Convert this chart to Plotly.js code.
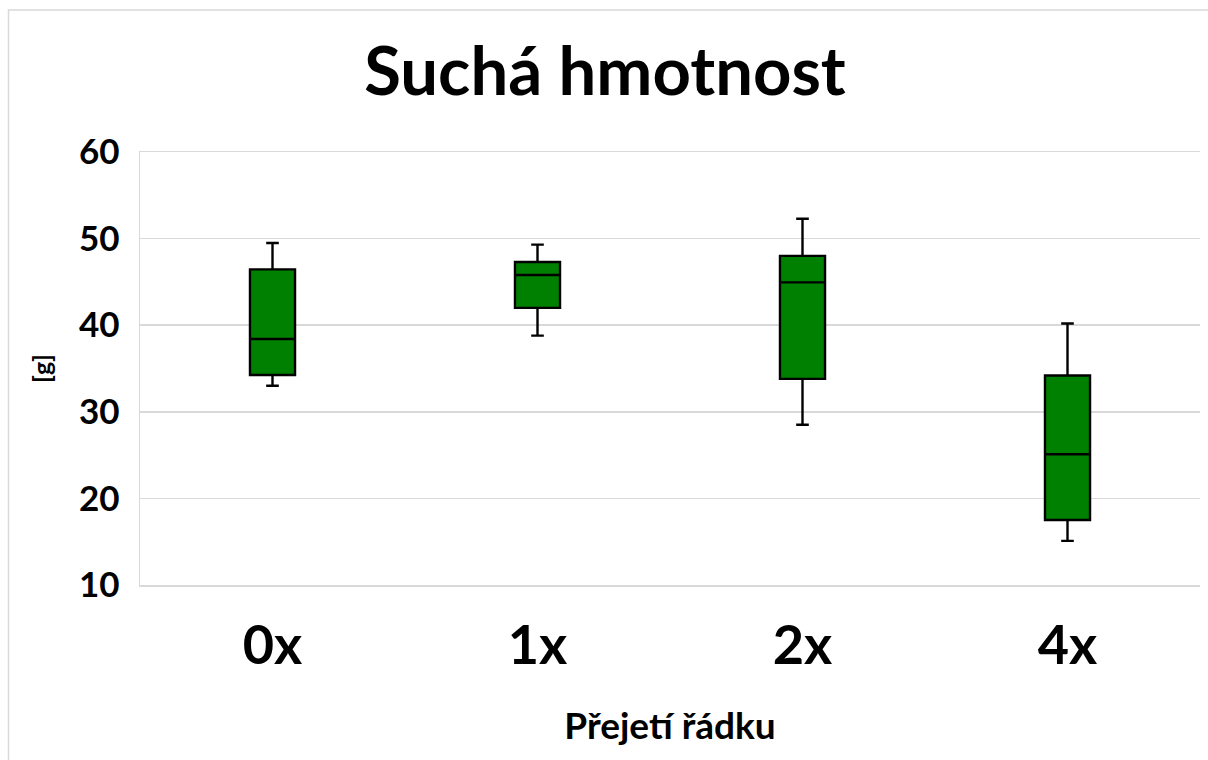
<!DOCTYPE html>
<html>
<head>
<meta charset="utf-8">
<script src="https://cdn.plot.ly/plotly-3.0.1.min.js"></script>
<style>html,body{margin:0;padding:0;background:#fff;}#chart{width:1208px;height:760px;}</style>
</head>
<body>
<div id="chart"></div>
<script>
const categories = ['0x', '1x', '2x', '4x'];
const lowerFence = [33.0, 38.8, 28.5, 15.1];
const q1 = [34.25, 42.0, 33.8, 17.5];
const median = [38.4, 45.8, 44.95, 25.1];
const q3 = [46.45, 47.3, 48.0, 34.2];
const upperFence = [49.5, 49.3, 52.3, 40.2];
const yTicks = [10, 20, 30, 40, 50, 60];

const FONT = 'Lato, "Open Sans", sans-serif';

const trace = {
  type: 'box',
  x: categories,
  q1: q1,
  median: median,
  q3: q3,
  lowerfence: lowerFence,
  upperfence: upperFence,
  width: 0.17,
  whiskerwidth: 0.28,
  fillcolor: '#008000',
  line: {color: '#000000', width: 2.4},
  boxpoints: false,
  hoverinfo: 'y',
  showlegend: false
};

const layout = {
  width: 1208,
  height: 760,
  paper_bgcolor: '#ffffff',
  plot_bgcolor: '#ffffff',
  margin: {l: 140, r: 8, t: 152, b: 175, pad: 0},
  title: {
    text: 'Suchá hmotnost',
    font: {family: FONT, size: 67, color: '#000', weight: 'bold'},
    x: 605 / 1208, xref: 'container', xanchor: 'center',
    y: 1 - 72 / 760, yref: 'container', yanchor: 'middle'
  },
  xaxis: {
    type: 'category',
    categoryorder: 'array',
    categoryarray: categories,
    range: [-0.5, 3.5],
    autorange: false,
    showgrid: false,
    showline: true,
    mirror: true,
    linecolor: '#d9d9d9',
    linewidth: 1.5,
    zeroline: false,
    ticks: '',
    ticklabelstandoff: 13,
    tickfont: {family: FONT, size: 54, color: '#000', weight: 'bold'},
    title: {
      text: 'Přejetí řádku',
      font: {family: FONT, size: 37, color: '#000', weight: 'bold'},
      standoff: 38
    }
  },
  yaxis: {
    range: [10, 60],
    autorange: false,
    tickvals: yTicks,
    ticktext: yTicks.map(String),
    showgrid: true,
    gridcolor: '#d9d9d9',
    gridwidth: 1.5,
    showline: true,
    linecolor: '#d9d9d9',
    linewidth: 1.5,
    zeroline: false,
    ticks: '',
    ticklabelstandoff: 12,
    tickfont: {family: FONT, size: 35, color: '#000', weight: 'bold'},
    title: {
      text: '[g]',
      font: {family: FONT, size: 25, color: '#000', weight: 'bold'},
      standoff: 20
    }
  },
  shapes: [{
    type: 'rect', xref: 'paper', yref: 'paper',
    x0: (8.5 - 140) / 1060, x1: 1.2,
    y0: -0.6, y1: (585 - 10) / 433,
    line: {color: '#d9d9d9', width: 1.5},
    fillcolor: 'rgba(0,0,0,0)',
    layer: 'below'
  }]
};

Plotly.newPlot('chart', [trace], layout, {displayModeBar: false, staticPlot: true});
</script>
</body>
</html>
